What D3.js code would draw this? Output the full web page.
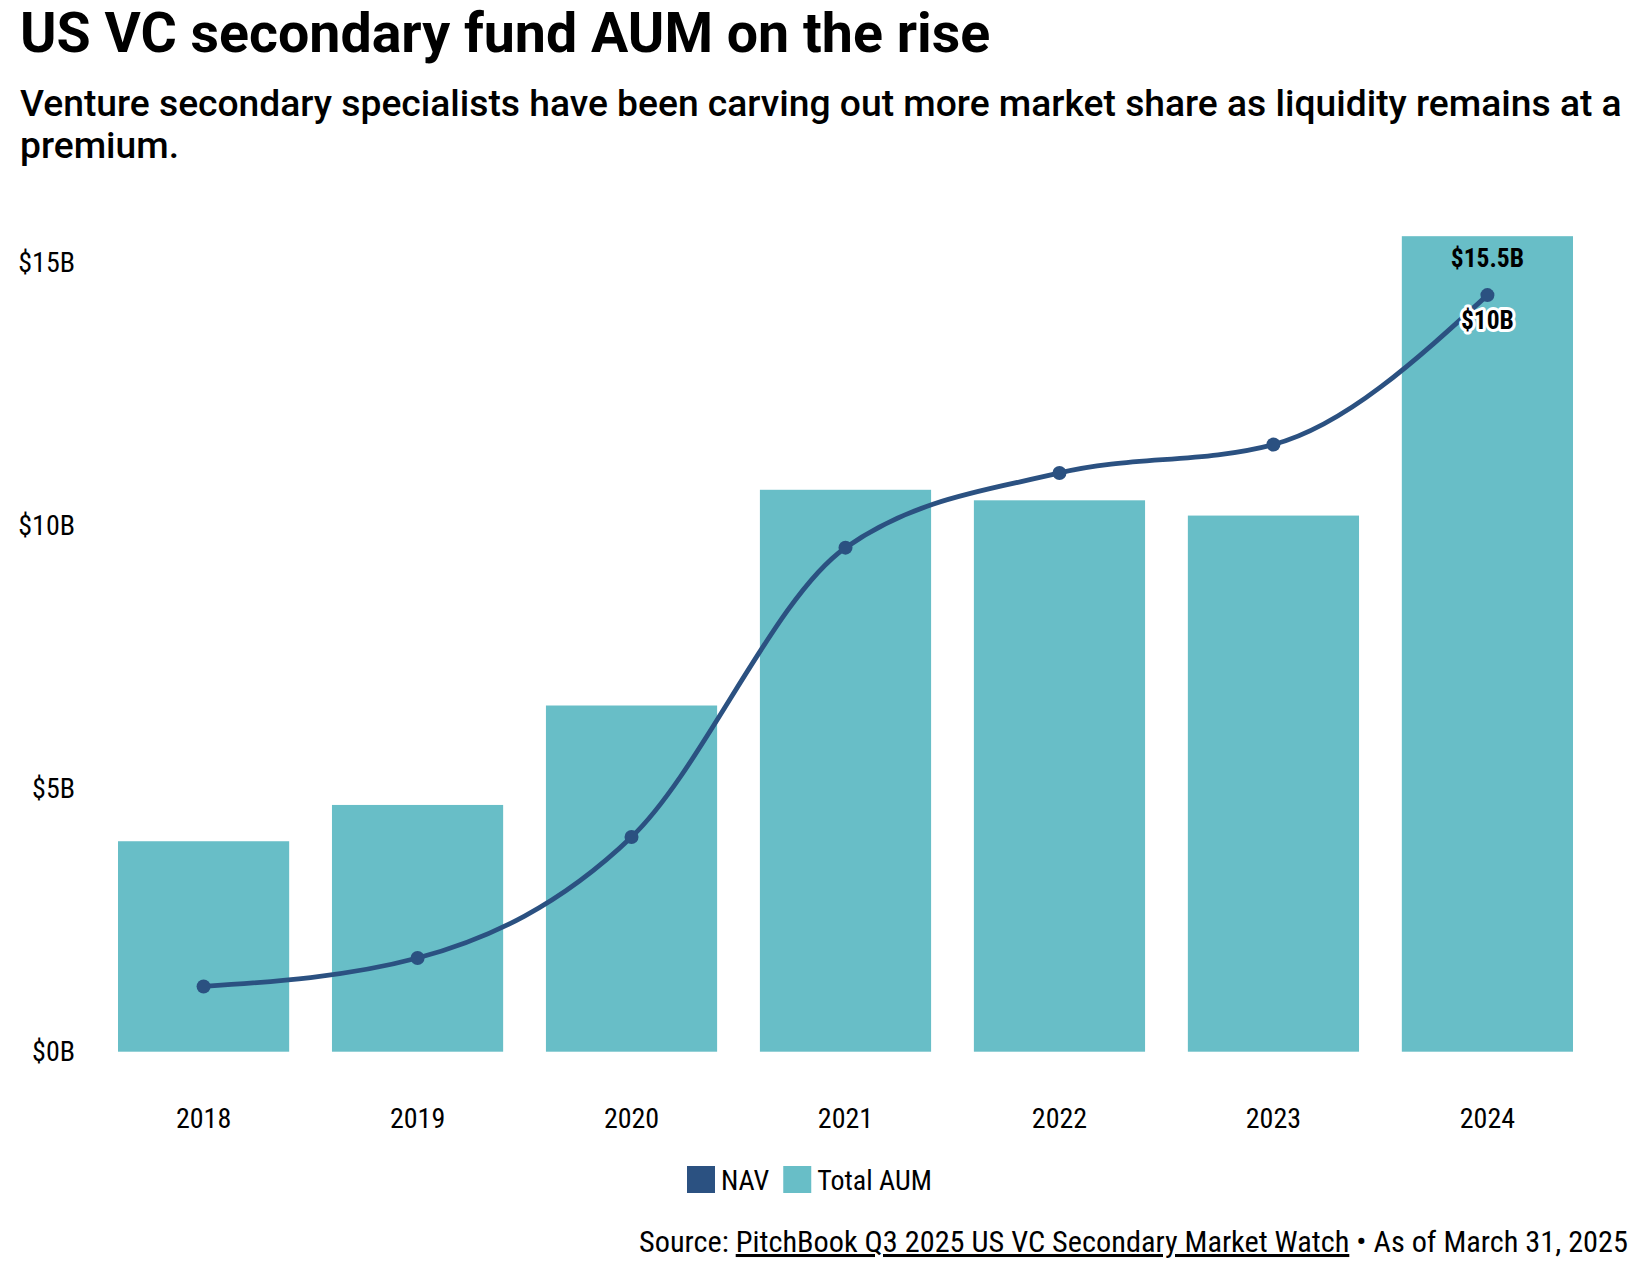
<!DOCTYPE html>
<html lang="en">
	<head>
		<meta charset="utf-8">
		<title>US VC secondary fund AUM</title>
		<script type="text/javascript" src="https://cdn.jsdelivr.net/npm/d3@7"></script>
		<style>
			body { margin: 0; background: #fff; }
			svg { display: block; }
			.cond { font-family: "Roboto Condensed", "Liberation Sans Narrow", "Arial Narrow", Roboto, sans-serif; }
		</style>
	</head>

	<body>

		<script type="text/javascript">
			var width = 1640
			var height = 1274

			// data ($B)
			var years = ["2018", "2019", "2020", "2021", "2022", "2023", "2024"]
			var totalAum = [4.0, 4.69, 6.58, 10.68, 10.48, 10.19, 15.5]
			var nav = [1.24, 1.78, 4.08, 9.58, 11.0, 11.54, 14.38]
			var yTicks = [0, 5, 10, 15]
			var seriesNames = ["NAV", "Total AUM"]
			var seriesColors = ["#2b5181", "#68bec7"]
			// labels shown on the last year
			var lastAumLabel = "$15.5B"
			var lastNavLabel = "$10B"

			var svg = d3.select("body").append("svg").attr("width", width).attr("height", height)

			// title + subtitle
			svg.append("text")
				.attr("x", 20).attr("y", 52)
				.style("font-family", "Roboto, sans-serif")
				.style("font-weight", 700)
				.style("font-size", "55.5px")
				.text("US VC secondary fund AUM on the rise")

			var sub1 = svg.append("text")
				.attr("x", 20).attr("y", 116)
				.style("font-family", "Roboto, sans-serif")
				.style("font-weight", 500)
				.style("font-size", "30px")
				.text("Venture secondary specialists have been carving out more market share as liquidity remains at a")
			// fit first line to the width seen in the original
			var w1 = sub1.node().getComputedTextLength()
			var subSize = 30 * 1602 / w1
			sub1.style("font-size", subSize + "px")
			svg.append("text")
				.attr("x", 20).attr("y", 158)
				.style("font-family", "Roboto, sans-serif")
				.style("font-weight", 500)
				.style("font-size", subSize + "px")
				.text("premium.")

			// scales
			var x = d3.scaleBand()
				.domain(years)
				.range([96.6, 1594.4])
				.paddingInner(0.2)
				.paddingOuter(0.1)

			var y = d3.scaleLinear()
				.domain([0, 15])
				.range([1051.7, 262.5])

			// y axis (labels only)
			var yAxis = svg.append("g")
				.attr("class", "cond")
				.attr("transform", "translate(75,0)")
				.call(d3.axisLeft(y).tickValues(yTicks).tickSize(0).tickPadding(0).tickFormat(function(d) { return "$" + d + "B" }))
			yAxis.select(".domain").remove()
			yAxis.selectAll("text")
				.attr("font-family", null)
				.style("font-size", "28px")
				.style("fill", "#000")

			// x axis (labels only)
			var xAxis = svg.append("g")
				.attr("class", "cond")
				.attr("transform", "translate(0,1051.7)")
				.call(d3.axisBottom(x).tickSize(0).tickPadding(76))
			xAxis.select(".domain").remove()
			xAxis.selectAll("text")
				.attr("font-family", null)
				.attr("dy", "0")
				.style("font-size", "28px")
				.style("fill", "#000")

			// bars
			svg.selectAll("rect.bar")
				.data(totalAum)
				.enter()
				.append("rect")
				.attr("class", "bar")
				.attr("x", function(d, i) { return x(years[i]) })
				.attr("y", function(d) { return y(d) })
				.attr("width", x.bandwidth())
				.attr("height", function(d) { return y(0) - y(d) })
				.style("fill", seriesColors[1])

			// NAV line
			var line = d3.line()
				.x(function(d, i) { return x(years[i]) + x.bandwidth() / 2 })
				.y(function(d) { return y(d) })
				.curve(d3.curveMonotoneX)

			svg.append("path")
				.datum(nav)
				.attr("d", line)
				.style("fill", "none")
				.style("stroke", seriesColors[0])
				.style("stroke-width", 4.8)

			svg.selectAll("circle.nav")
				.data(nav)
				.enter()
				.append("circle")
				.attr("class", "nav")
				.attr("cx", function(d, i) { return x(years[i]) + x.bandwidth() / 2 })
				.attr("cy", function(d) { return y(d) })
				.attr("r", 7)
				.style("fill", seriesColors[0])

			// value labels on last year
			var last = years.length - 1
			var cx = x(years[last]) + x.bandwidth() / 2
			svg.append("text")
				.attr("class", "cond")
				.attr("x", cx).attr("y", y(totalAum[last]) + 31)
				.attr("text-anchor", "middle")
				.style("font-weight", 700)
				.style("font-size", "25.5px")
				.text(lastAumLabel)
			svg.append("text")
				.attr("class", "cond")
				.attr("x", cx).attr("y", y(nav[last]) + 34)
				.attr("text-anchor", "middle")
				.style("font-weight", 700)
				.style("font-size", "25.5px")
				.style("stroke", "#fff")
				.style("stroke-width", 6)
				.style("stroke-linejoin", "round")
				.style("paint-order", "stroke")
				.text(lastNavLabel)

			// legend
			var legend = svg.append("g").attr("class", "cond")
			var lx = 687
			seriesNames.forEach(function(name, i) {
				legend.append("rect")
					.attr("x", lx).attr("y", 1166)
					.attr("width", 28).attr("height", 27)
					.style("fill", seriesColors[i])
				var t = legend.append("text")
					.attr("x", lx + 34).attr("y", 1190)
					.style("font-size", "28px")
					.text(name)
				lx = lx + 34 + t.node().getComputedTextLength() + 14
			})

			// source line
			var src = svg.append("text")
				.attr("class", "cond")
				.attr("x", 1628).attr("y", 1252)
				.attr("text-anchor", "end")
				.style("font-size", "30.3px")
			src.append("tspan").text("Source: ")
			src.append("tspan").style("text-decoration", "underline").text("PitchBook Q3 2025 US VC Secondary Market Watch")
			src.append("tspan").text(" • As of March 31, 2025")
		</script>
	</body>
</html>
